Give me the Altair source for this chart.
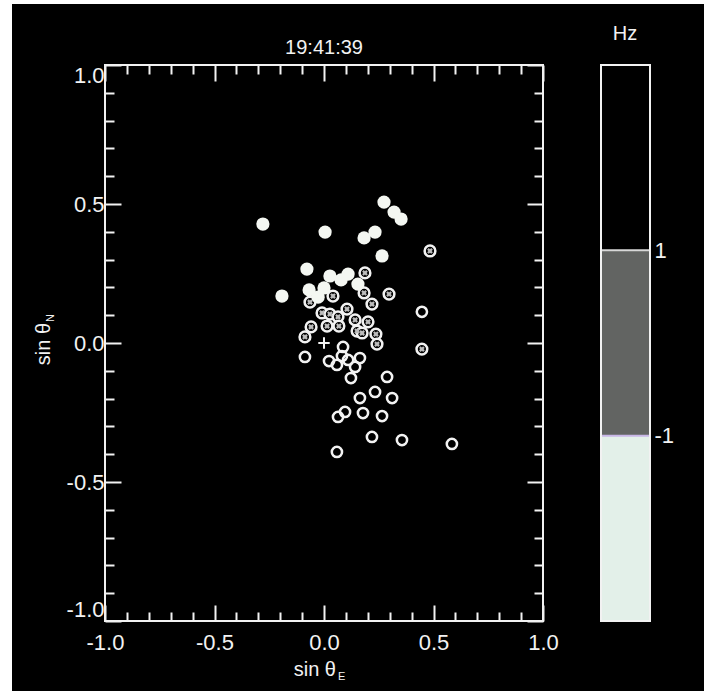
import altair as alt
import pandas as pd

# ---------------- data ----------------
filled_x = [-0.279, 0.005, 0.183, 0.233, 0.274, 0.320, 0.352, 0.265, -0.078, 0.027,
            0.078, 0.110, 0.155, -0.192, -0.068, 0.000, -0.027]
filled_y = [0.428, 0.399, 0.378, 0.399, 0.507, 0.471, 0.446, 0.313, 0.266, 0.241,
            0.227, 0.248, 0.212, 0.169, 0.191, 0.198, 0.165]

hatch_x = [0.484, 0.187, 0.183, 0.297, 0.219, 0.105, 0.041, -0.064, -0.009, 0.027, 0.064,
           0.142, 0.201, -0.059, 0.014, 0.068, -0.087, 0.151, 0.174, 0.237, 0.242, 0.447]
hatch_y = [0.331, 0.252, 0.180, 0.176, 0.140, 0.122, 0.169, 0.147, 0.108, 0.104, 0.094,
           0.083, 0.076, 0.058, 0.061, 0.061, 0.022, 0.043, 0.036, 0.032, -0.004, -0.022]

open_x = [0.447, -0.087, 0.087, 0.082, 0.023, 0.059, 0.110, 0.164, 0.142, 0.123, 0.288,
          0.233, 0.164, 0.311, 0.096, 0.064, 0.178, 0.265, 0.219, 0.356, 0.584, 0.059]
open_y = [0.112, -0.050, -0.014, -0.047, -0.065, -0.079, -0.061, -0.054, -0.086, -0.126, -0.122,
          -0.176, -0.198, -0.198, -0.248, -0.266, -0.252, -0.263, -0.338, -0.349, -0.363, -0.392]

origin_x = [0.0]
origin_y = [0.0]

major_ticks = [-1.0, -0.5, 0.0, 0.5, 1.0]
minor_ticks = [-0.9, -0.8, -0.7, -0.6, -0.4, -0.3, -0.2, -0.1,
               0.1, 0.2, 0.3, 0.4, 0.6, 0.7, 0.8, 0.9]

frame_lo = [-1.0]
frame_hi = [1.0]

# colour bar (Hz)
cb_lo = [-3, -1, 1]
cb_hi = [-1, 1, 3]
cb_colors = ["#e3f0e9", "#626462", "#000000"]
cb_labels = [1, -1]
cb_edges = [1, -1]
cb_edge_colors = ["#d8d8d8", "#c8b6e6"]

title_text = ["19:41:39"]
x_title = ["sin θ"]
x_sub = ["E"]
y_title = ["sin θ"]
y_sub = ["N"]
cb_title = ["Hz"]

# ---------------- styling ----------------
W, H = 438, 556
FONT = "Liberation Sans"
FG = "#f2f2f2"
MAJ, MIN = 16, 9
HYPHEN = "replace(datum.label, '\u2212', '-')"


def sc():
    return alt.Scale(domain=[-1, 1], nice=False, zero=False)


def ax(orient, values, size, **kw):
    return alt.Axis(orient=orient, values=values, tickSize=size, offset=-size,
                    domain=False, grid=False, ticks=True, tickColor=FG, tickWidth=2,
                    title="", zindex=2, **kw)


lab = dict(labels=True, format=".1f", labelFontSize=22, labelColor=FG, labelFont=FONT,
           labelExpr=HYPHEN)

ax_bottom_major = ax("bottom", major_ticks, MAJ, labelFlush=False, labelPadding=11, **lab)
ax_left_major = ax("left", major_ticks, MAJ, labelFlush=True, labelPadding=1, **lab)
ax_top_major = ax("top", major_ticks, MAJ, labels=False)
ax_right_major = ax("right", major_ticks, MAJ, labels=False)
ax_bottom_minor = ax("bottom", minor_ticks, MIN, labels=False)
ax_left_minor = ax("left", minor_ticks, MIN, labels=False)
ax_top_minor = ax("top", minor_ticks, MIN, labels=False)
ax_right_minor = ax("right", minor_ticks, MIN, labels=False)

one = pd.DataFrame({"a": [0]})

# background (black page with thin white margins)
bg = alt.Chart(one).mark_rect(color="#000000").encode(
    x=alt.value(-93), x2=alt.value(599), y=alt.value(-61), y2=alt.value(626))

frame_df = pd.DataFrame({"lo": frame_lo, "hi": frame_hi})
frame = alt.Chart(frame_df).mark_rect(fillOpacity=0, stroke=FG, strokeWidth=2).encode(
    x=alt.X("lo:Q", scale=sc(), axis=None), x2="hi:Q",
    y=alt.Y("lo:Q", scale=sc(), axis=None), y2="hi:Q")

open_df = pd.DataFrame({"x": open_x, "y": open_y})
hatch_df = pd.DataFrame({"x": hatch_x, "y": hatch_y})
filled_df = pd.DataFrame({"x": filled_x, "y": filled_y})
origin_df = pd.DataFrame({"x": origin_x, "y": origin_y})

open_layer = alt.Chart(open_df).mark_point(
    shape="circle", filled=False, stroke=FG, strokeWidth=2.5, size=105, opacity=1).encode(
    x=alt.X("x:Q", scale=sc(), axis=ax_bottom_major),
    y=alt.Y("y:Q", scale=sc(), axis=ax_left_major))

hatch_ring = alt.Chart(hatch_df).mark_point(
    shape="circle", filled=True, fill="#000000", stroke=FG, strokeWidth=2.5, size=115,
    opacity=1, fillOpacity=1).encode(
    x=alt.X("x:Q", scale=sc(), axis=ax_top_major),
    y=alt.Y("y:Q", scale=sc(), axis=ax_right_major))

hatch_inner = alt.Chart(hatch_df).mark_point(
    shape="cross", angle=45, filled=True, color="#bdbdbd", size=34, opacity=1).encode(
    x=alt.X("x:Q", scale=sc(), axis=ax_bottom_minor),
    y=alt.Y("y:Q", scale=sc(), axis=ax_left_minor))

filled_layer = alt.Chart(filled_df).mark_point(
    shape="circle", filled=True, color="#f4f7f2", size=175, opacity=1).encode(
    x=alt.X("x:Q", scale=sc(), axis=ax_top_minor),
    y=alt.Y("y:Q", scale=sc(), axis=ax_right_minor))

origin_layer = alt.Chart(origin_df).mark_point(
    shape="M-1,0H1M0,-1V1", filled=False, stroke=FG, strokeWidth=2, size=130, opacity=1).encode(
    x=alt.X("x:Q", scale=sc(), axis=None),
    y=alt.Y("y:Q", scale=sc(), axis=None))

# colour bar
cb_scale = alt.Scale(domain=[-3, 3], nice=False, zero=False)
cb_df = pd.DataFrame({"lo": cb_lo, "hi": cb_hi, "col": cb_colors})
cb_rects = alt.Chart(cb_df).mark_rect().encode(
    x=alt.value(496), x2=alt.value(545),
    y=alt.Y("lo:Q", scale=cb_scale,
            axis=alt.Axis(orient="right", offset=107, values=cb_labels, ticks=False,
                          domain=False, grid=False, labelFontSize=22, labelPadding=4,
                          labelFont=FONT, labelColor=FG, format="d", title="",
                          labelFlush=False, zindex=2, labelExpr=HYPHEN)),
    y2="hi:Q",
    color=alt.Color("col:N", scale=None))

edge_df = pd.DataFrame({"v": cb_edges, "col": cb_edge_colors})
cb_edges_layer = alt.Chart(edge_df).mark_rule(strokeWidth=2).encode(
    x=alt.value(496), x2=alt.value(545),
    y=alt.Y("v:Q", scale=cb_scale, axis=None),
    color=alt.Color("col:N", scale=None))

cb_box_df = pd.DataFrame({"lo": [-3], "hi": [3]})
cb_box = alt.Chart(cb_box_df).mark_rect(fillOpacity=0, stroke=FG, strokeWidth=2).encode(
    x=alt.value(496), x2=alt.value(545),
    y=alt.Y("lo:Q", scale=cb_scale, axis=None), y2="hi:Q")


def txt(values, size, x, y, align="center", angle=0, baseline="alphabetic"):
    return alt.Chart(pd.DataFrame({"t": values})).mark_text(
        font=FONT, fontSize=size, color=FG, align=align, baseline=baseline, angle=angle).encode(
        text="t:N", x=alt.value(x), y=alt.value(y))


texts = [
    txt(title_text, 20, 219, -11),
    txt(x_title, 20, 231, 611, align="right"),
    txt(x_sub, 11, 233, 615, align="left"),
    txt(y_title, 20, -55, 279, angle=270),
    txt(y_sub, 11, -51, 257, align="left", angle=270),
    txt(cb_title, 20, 520, -31, baseline="middle"),
]

chart = alt.layer(
    bg, open_layer, hatch_ring, hatch_inner, filled_layer, origin_layer, frame,
    cb_rects, cb_edges_layer, cb_box, *texts
).resolve_scale(
    x="independent", y="independent"
).resolve_axis(
    x="independent", y="independent"
).properties(
    width=W, height=H,
    autosize=alt.AutoSizeParams(type="none"),
    padding={"left": 105, "top": 65, "right": 165, "bottom": 70},
).configure(
    background="#ffffff"
).configure_view(
    strokeWidth=0
)

chart.save("out.html", embed_options={"renderer": "svg", "actions": False})
